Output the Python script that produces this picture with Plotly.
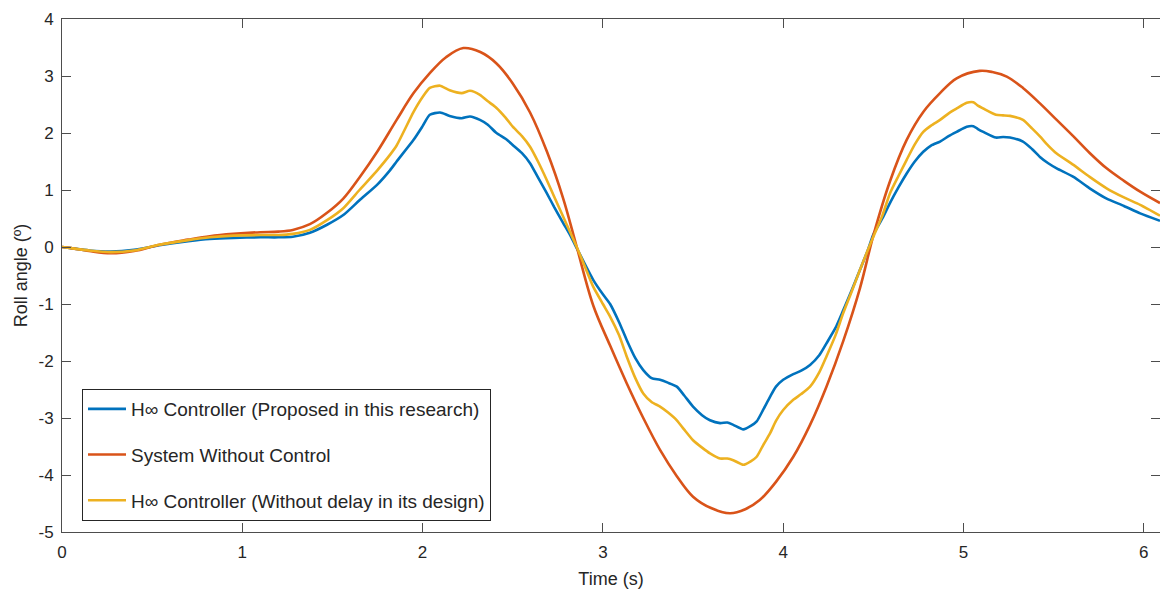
import plotly.graph_objects as go

# Time axes (s)
t_ctrl = [0, 0.05, 0.15, 0.27, 0.4, 0.54, 0.7, 0.82, 0.95, 1.1, 1.2, 1.28, 1.375, 1.47, 1.56, 1.65, 1.75, 1.82, 1.856, 1.95,
          2.0, 2.04, 2.097, 2.15, 2.217, 2.263, 2.318, 2.36, 2.41, 2.46, 2.5, 2.55, 2.596, 2.64, 2.688, 2.73, 2.78, 2.82, 2.855, 2.9,
          2.947, 3.0, 3.04, 3.09, 3.132, 3.18, 3.224, 3.27, 3.317, 3.36, 3.41, 3.45, 3.5, 3.55, 3.594, 3.65, 3.69, 3.723, 3.779, 3.82,
          3.853, 3.89, 3.927, 3.96, 4.0, 4.056, 4.1, 4.149, 4.2, 4.24, 4.29, 4.333, 4.38, 4.426, 4.47, 4.5, 4.55, 4.592, 4.64, 4.685,
          4.73, 4.777, 4.82, 4.87, 4.92, 4.962, 5.018, 5.055, 5.08, 5.11, 5.18, 5.22, 5.258, 5.33, 5.38, 5.424, 5.47, 5.517, 5.61, 5.7,
          5.794, 5.89, 5.98, 6.09]

hinf_proposed = [0, -0.02, -0.06, -0.08, -0.05, 0.03, 0.1, 0.14, 0.16, 0.17, 0.17, 0.18, 0.25, 0.39, 0.56, 0.82, 1.1, 1.35, 1.5, 1.88,
                 2.12, 2.32, 2.36, 2.3, 2.26, 2.29, 2.23, 2.15, 2.0, 1.9, 1.79, 1.65, 1.47, 1.22, 0.95, 0.7, 0.42, 0.2, -0.02, -0.3,
                 -0.58, -0.83, -1.0, -1.32, -1.63, -1.95, -2.16, -2.3, -2.33, -2.38, -2.45, -2.6, -2.8, -2.95, -3.04, -3.09, -3.08, -3.12, -3.2, -3.14,
                 -3.06, -2.85, -2.63, -2.45, -2.33, -2.23, -2.17, -2.07, -1.9, -1.69, -1.42, -1.11, -0.76, -0.4, -0.05, 0.22, 0.5, 0.77, 1.05, 1.29,
                 1.5, 1.67, 1.78, 1.85, 1.95, 2.02, 2.11, 2.12, 2.07, 2.02, 1.92, 1.93, 1.92, 1.85, 1.72, 1.58, 1.47, 1.38, 1.23, 1.03,
                 0.85, 0.72, 0.59, 0.46]

hinf_nodelay = [0, -0.02, -0.06, -0.09, -0.06, 0.04, 0.12, 0.17, 0.2, 0.21, 0.21, 0.23, 0.3, 0.47, 0.68, 1.0, 1.35, 1.62, 1.78, 2.37,
                2.63, 2.79, 2.83, 2.75, 2.7, 2.74, 2.67, 2.56, 2.44, 2.27, 2.11, 1.95, 1.76, 1.5, 1.18, 0.88, 0.53, 0.25, 0.0, -0.34,
                -0.7, -1.0, -1.22, -1.55, -1.92, -2.3, -2.57, -2.72, -2.8, -2.9, -3.04, -3.2, -3.39, -3.52, -3.62, -3.71, -3.71, -3.74, -3.82, -3.76,
                -3.68, -3.47, -3.27, -3.05, -2.86, -2.68, -2.58, -2.45, -2.2, -1.92, -1.55, -1.16, -0.78, -0.4, -0.05, 0.18, 0.55, 0.94, 1.25, 1.53,
                1.8, 2.02, 2.13, 2.23, 2.35, 2.43, 2.53, 2.54, 2.48, 2.43, 2.32, 2.31, 2.3, 2.23, 2.08, 1.94, 1.78, 1.64, 1.44, 1.23,
                1.03, 0.87, 0.74, 0.55]

t_free = [0, 0.05, 0.15, 0.27, 0.4, 0.54, 0.7, 0.82, 0.95, 1.1, 1.2, 1.28, 1.375, 1.47, 1.56, 1.65, 1.75, 1.856, 1.95, 2.04,
          2.13, 2.226, 2.32, 2.41, 2.5, 2.596, 2.69, 2.78, 2.855, 2.947, 3.04, 3.132, 3.224, 3.317, 3.41, 3.5, 3.6, 3.705, 3.79, 3.87,
          3.96, 4.056, 4.149, 4.24, 4.333, 4.426, 4.5, 4.592, 4.685, 4.777, 4.87, 4.962, 5.09, 5.16, 5.24, 5.33, 5.424, 5.517, 5.61, 5.7,
          5.794, 5.89, 5.98, 6.09]
no_control = [0, -0.02, -0.07, -0.11, -0.07, 0.04, 0.13, 0.19, 0.23, 0.26, 0.27, 0.3, 0.4, 0.6, 0.85, 1.22, 1.68, 2.23, 2.7, 3.05,
              3.33, 3.49, 3.42, 3.22, 2.87, 2.36, 1.67, 0.85, 0.0, -1.03, -1.73, -2.39, -3.0, -3.56, -4.02, -4.38, -4.58, -4.67, -4.6, -4.44,
              -4.12, -3.68, -3.12, -2.45, -1.65, -0.72, 0.2, 1.15, 1.88, 2.37, 2.7, 2.96, 3.09, 3.07, 2.99, 2.79, 2.52, 2.23, 1.94, 1.65,
              1.38, 1.16, 0.97, 0.77]

series_names = ["H∞ Controller (Proposed in this research)", "System Without Control",
                "H∞ Controller (Without delay in its design)"]

x_ticks = [0, 1, 2, 3, 4, 5, 6]
x_tick_text = ["0", "1", "2", "3", "4", "5", "6"]
y_ticks = [4, 3, 2, 1, 0, -1, -2, -3, -4, -5]
y_tick_text = ["4", "3", "2", "1", "0", "-1", "-2", "-3", "-4", "-5"]

FONT = "Arial, Liberation Sans, Helvetica, sans-serif"
TXT = "#262626"
AX = "#4d4d4d"

fig = go.Figure()
fig.add_trace(go.Scatter(x=t_ctrl, y=hinf_proposed, mode="lines", name=series_names[0], legendgroup="a",
                         line=dict(color="#0072BD", width=2.6, shape="spline", smoothing=0.6)))
fig.add_trace(go.Scatter(x=t_free, y=no_control, mode="lines", name=series_names[1], legendgroup="b",
                         line=dict(color="#D95319", width=2.6, shape="spline", smoothing=1.0)))
fig.add_trace(go.Scatter(x=t_ctrl, y=hinf_nodelay, mode="lines", name=series_names[2], legendgroup="c",
                         line=dict(color="#EDB120", width=2.6, shape="spline", smoothing=0.6)))

axis_common = dict(showline=True, linecolor=AX, linewidth=1, mirror="allticks", ticks="inside", ticklen=9,
                   tickcolor=AX, tickwidth=1, showgrid=False, zeroline=False,
                   tickfont=dict(family=FONT, size=17, color=TXT))

fig.update_xaxes(range=[0, 6.09], tickmode="array", tickvals=x_ticks, ticktext=x_tick_text,
                 title=dict(text="Time (s)", font=dict(family=FONT, size=18, color=TXT), standoff=10),
                 ticklabelstandoff=5, **axis_common)
fig.update_yaxes(range=[-5, 4], tickmode="array", tickvals=y_ticks, ticktext=y_tick_text,
                 title=dict(text="Roll angle (º)", font=dict(family=FONT, size=18, color=TXT), standoff=6),
                 ticklabelstandoff=4, **axis_common)

fig.update_layout(
    width=1160, height=592,
    margin=dict(l=62, r=0, t=19, b=60),
    plot_bgcolor="white", paper_bgcolor="white",
    font=dict(family=FONT, color=TXT),
    legend=dict(x=(82 - 62) / 1098, y=(532 - 389) / 513, xanchor="left", yanchor="top",
                bgcolor="white", bordercolor=TXT, borderwidth=1,
                font=dict(family=FONT, size=19, color=TXT), tracegroupgap=18,
                itemwidth=38),
    showlegend=True,
)

fig.write_html("out.html")
